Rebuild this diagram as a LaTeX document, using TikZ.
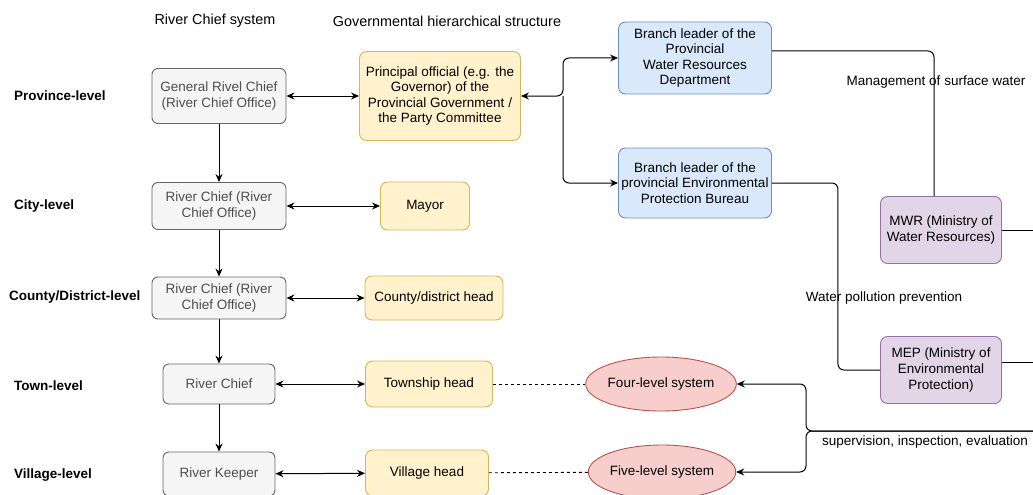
\documentclass[tikz,border=0pt]{standalone}
\usepackage{fontspec}
\setmainfont{Liberation Sans}
\usetikzlibrary{shapes.geometric,arrows.meta}

\definecolor{grisfondo}{HTML}{F5F5F5}
\definecolor{grisborde}{HTML}{666666}
\definecolor{gristexto}{HTML}{4D4D4D}
\definecolor{amarillofondo}{HTML}{FFF2CC}
\definecolor{amarilloborde}{HTML}{D6B656}
\definecolor{azulfondo}{HTML}{DAE8FC}
\definecolor{azulborde}{HTML}{6C8EBF}
\definecolor{moradofondo}{HTML}{E1D5E7}
\definecolor{moradoborde}{HTML}{9673A6}
\definecolor{rojofondo}{HTML}{F8CECC}
\definecolor{rojoborde}{HTML}{B85450}

\tikzset{
  chiefbox/.style={draw=grisborde, fill=grisfondo, text=gristexto, rounded corners=6pt,
    line width=0.9pt, align=center, inner sep=0pt},
  govbox/.style={draw=amarilloborde, fill=amarillofondo, rounded corners=7pt,
    line width=0.9pt, align=center, inner sep=0pt},
  branchbox/.style={draw=azulborde, fill=azulfondo, rounded corners=7pt,
    line width=0.9pt, align=center, inner sep=0pt},
  ministrybox/.style={draw=moradoborde, fill=moradofondo, rounded corners=7pt,
    line width=0.9pt, align=center, inner sep=0pt},
  systemell/.style={ellipse, draw=rojoborde, fill=rojofondo, line width=0.9pt, inner sep=0pt},
  levellabel/.style={anchor=west, font=\fontsize{13.5}{15.6}\selectfont\bfseries},
  header/.style={font=\fontsize{14.4}{16}\selectfont},
  link/.style={line width=1pt, draw=black, rounded corners=6pt},
  tip/.style={-{Stealth[length=8pt,width=7pt]}},
  bitip/.style={{Stealth[length=8pt,width=7pt]}-{Stealth[length=8pt,width=7pt]}}
}

\begin{document}
\begin{tikzpicture}[x=1pt, y=-1pt, font=\fontsize{13.5}{15.6}\selectfont]
        % Paso 1: Fija el marco de la figura
        \useasboundingbox (0,0) rectangle (1033,495);

        % Paso 2: Encabezados de las dos columnas
        \node[header] (hdrrc) at (215,21) {River Chief system};
        \node[header] (hdrgov) at (447,21) {Governmental hierarchical structure};

        % Paso 3: Etiquetas de los niveles
        \node[levellabel] (lvprov) at (10.5,96) {Province-level};
        \node[levellabel] (lvcity) at (10.5,206) {City-level};
        \node[levellabel] (lvcounty) at (5.5,297) {County/District-level};
        \node[levellabel] (lvtown) at (10.5,386) {Town-level};
        \node[levellabel] (lvvill) at (10.5,475) {Village-level};

        % Paso 4: Columna del sistema River Chief
        \node[chiefbox, minimum width=134, minimum height=55] (grc) at (219,96)
          {General Rivel Chief\\(River Chief Office)};
        \node[chiefbox, minimum width=134, minimum height=47] (rccity) at (219,206)
          {River Chief (River\\Chief Office)};
        \node[chiefbox, minimum width=134, minimum height=42] (rccounty) at (219,298)
          {River Chief (River\\Chief Office)};
        \node[chiefbox, minimum width=112, minimum height=40] (rctown) at (219,384) {River Chief};
        \node[chiefbox, minimum width=112, minimum height=44] (keeper) at (219,474) {River Keeper};

        % Paso 5: Columna de la estructura gubernamental
        \node[govbox, minimum width=161, minimum height=89] (po) at (440,96)
          {Principal official (e.g. the\\Governor) of the\\Provincial Government /\\the Party Committee};
        \node[govbox, minimum width=89, minimum height=48] (mayor) at (425,206) {Mayor};
        \node[govbox, minimum width=138, minimum height=44] (cdh) at (434,298) {County/district head};
        \node[govbox, minimum width=127, minimum height=46] (twp) at (429,384) {Township head};
        \node[govbox, minimum width=123, minimum height=46] (vil) at (427,473) {Village head};

        % Paso 6: Jefes de rama y ministerios
        \node[branchbox, minimum width=153, minimum height=72] (bwr) at (695,58)
          {Branch leader of the\\Provincial\\Water Resources\\Department};
        \node[branchbox, minimum width=153, minimum height=70] (bep) at (695,183)
          {Branch leader of the\\provincial Environmental\\Protection Bureau};
        \node[ministrybox, minimum width=121, minimum height=67] (mwr) at (941,230)
          {MWR (Ministry of\\Water Resources)};
        \node[ministrybox, minimum width=121, minimum height=67] (mep) at (941,370)
          {MEP (Ministry of\\Environmental\\Protection)};

        % Paso 7: Sistemas de cuatro y cinco niveles
        \node[systemell, minimum width=128, minimum height=54] (four) at (661,384) {Four-level system};
        \node[systemell, minimum width=130, minimum height=54] (five) at (662,472) {Five-level system};

        % Paso 8: Flechas verticales y horizontales
        \draw[link, tip] (grc) -- (rccity);
        \draw[link, tip] (rccity) -- (rccounty);
        \draw[link, tip] (rccounty) -- (rctown);
        \draw[link, tip] (rctown) -- (keeper);
        \draw[link, bitip] (grc) -- (po);
        \draw[link, bitip] (rccity) -- (mayor);
        \draw[link, bitip] (rccounty) -- (cdh);
        \draw[link, bitip] (rctown) -- (twp);
        \draw[link, bitip] (keeper) -- (vil);

        % Paso 9: Ramas provinciales
        \coordinate (split) at (563,96);
        \draw[link, bitip] (po.east) -- (split) |- (bwr.west);
        \draw[link, tip] (split) |- (bep.west);

        % Paso 10: Lineas hacia los ministerios
        \draw[link] ([yshift=7pt]bwr.east) -| ([xshift=-7pt]mwr.north);
        \draw[link] (bep.east) -- ++(66,0) |- (mep.west);
        \coordinate (mwrout) at (1033,230);
        \coordinate (mepout) at (1033,362);
        \draw[link] (mwr.east) -- (mwrout);
        \draw[link] ([yshift=8pt]mep.east) -- (mepout);
        \node (mgmt) at (936,82) {Management of surface water};
        \node (wpp) at (884,298) {Water pollution prevention};

        % Paso 11: Supervision e inspeccion
        \coordinate (supin) at (1033,431);
        \coordinate (supbend) at (806,431);
        \draw[link, tip] (supin) -- (supbend) |- (four.east);
        \draw[link, tip] (supin) -- (supbend) |- (five.east);
        \node (sie) at (925,442) {supervision, inspection, evaluation};

        % Paso 12: Lineas punteadas
        \draw[line width=0.9pt, dashed] (twp) -- (four);
        \draw[line width=0.9pt, dashed] (vil) -- (five);
    \end{tikzpicture}
\end{document}
